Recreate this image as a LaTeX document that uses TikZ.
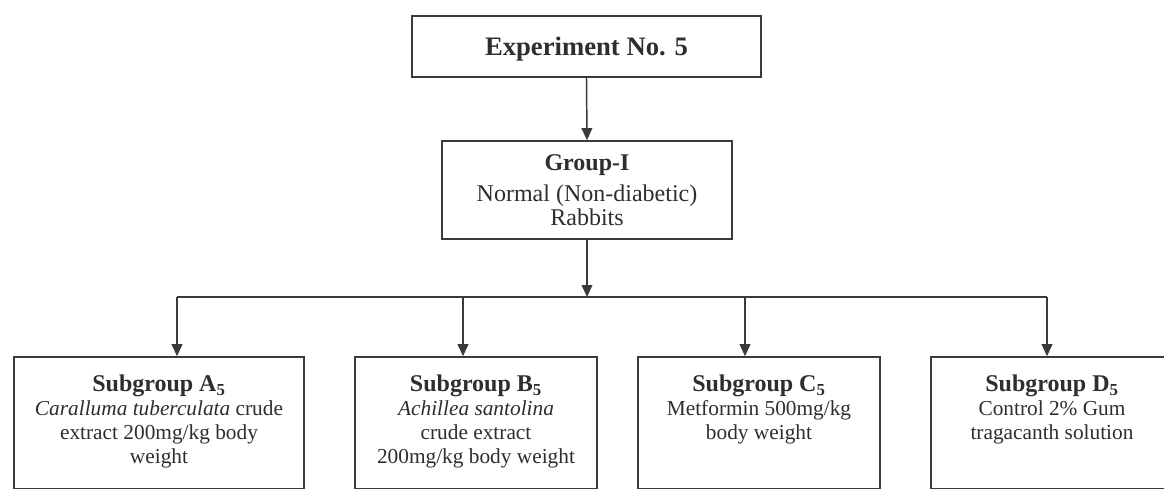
\documentclass[tikz,border=0pt]{standalone}
\usepackage{fontspec}
\setmainfont{Liberation Serif}
\usetikzlibrary{arrows.meta}
\definecolor{ink}{HTML}{2E2E2E}
\definecolor{rule}{HTML}{3A3A3A}
\newcommand{\headline}[1]{{\fontsize{18}{18}\selectfont\bfseries #1}}
\begin{document}
\begin{tikzpicture}[x=0.75pt,y=-0.75pt,
  frame/.style={draw=rule, line width=1.2pt, inner sep=0pt},
  body/.style={text=ink, font=\fontsize{16}{18}\selectfont, align=center, inner sep=0pt},
  link/.style={draw=rule, line width=1.1pt},
  arr/.style={link, -{Triangle[width=8pt,length=9pt]}}]
\clip (0,0) rectangle (1164,489);
\fill[white] (0,0) rectangle (1164,489);

% top of the tree
\node[frame, minimum width=261.75pt, minimum height=45.75pt, text=ink, text depth=0pt,
      font=\fontsize{20}{24}\selectfont\bfseries] (exp) at (586.5,46.5) {Experiment No. 5};

\node[frame, body, font=\fontsize{18}{18}\selectfont,
      minimum width=217.5pt, minimum height=73.5pt] (grp) at (587,190)
  {\headline{Group-I}\\[5pt]Normal (Non-diabetic)\\Rabbits};

% subgroup frames (running past the lower edge)
\node[frame, minimum width=217.5pt, minimum height=99pt] (boxA) at (159,423) {};
\node[frame, minimum width=181.5pt, minimum height=99pt] (boxB) at (476,423) {};
\node[frame, minimum width=181.5pt, minimum height=99pt] (boxC) at (759,423) {};
\node[frame, minimum width=181.5pt, minimum height=99pt] (boxD) at (1052,423) {};

% subgroup texts
\node[body, anchor=north] (txtA) at (159,375)
  {\headline{Subgroup A\textsubscript{5}}\\\textit{Caralluma tuberculata} crude\\extract 200mg/kg body\\weight};
\node[body, anchor=north] (txtB) at (476,375)
  {\headline{Subgroup B\textsubscript{5}}\\\textit{Achillea santolina}\\crude extract\\200mg/kg body weight};
\node[body, anchor=north] (txtC) at (759,375)
  {\headline{Subgroup C\textsubscript{5}}\\Metformin 500mg/kg\\body weight};
\node[body, anchor=north] (txtD) at (1052,375)
  {\headline{Subgroup D\textsubscript{5}}\\Control 2\% Gum\\tragacanth solution};

% connectors
\draw[arr] (exp.south) -- (grp.north);
\coordinate (bus) at (587,297);
\draw[arr] (grp.south) -- (bus);
\coordinate (busA) at (177,297);
\coordinate (busB) at (463,297);
\coordinate (busC) at (745,297);
\coordinate (busD) at (1047,297);
\draw[link] (busA) -- (busD);
\draw[arr] (busA) -- (busA |- boxA.north);
\draw[arr] (busB) -- (busB |- boxB.north);
\draw[arr] (busC) -- (busC |- boxC.north);
\draw[arr] (busD) -- (busD |- boxD.north);
\end{tikzpicture}
\end{document}
